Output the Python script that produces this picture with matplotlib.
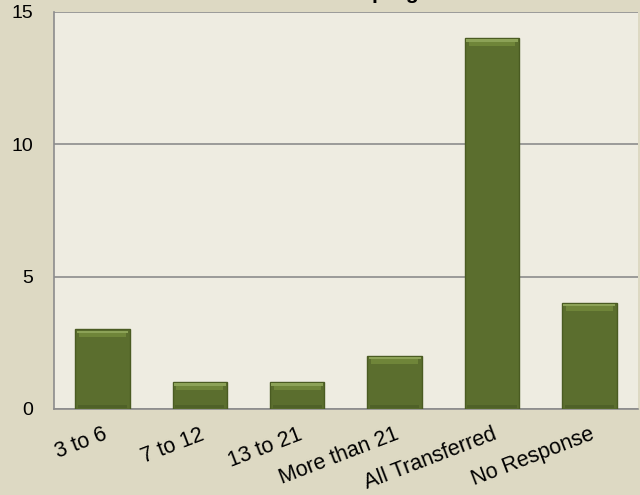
import numpy as np
import matplotlib.pyplot as plt

categories = ['3 to 6', '7 to 12', '13 to 21', 'More than 21', 'All Transferred', 'No Response']
counts = [3, 1, 1, 2, 14, 4]
yticks = [0, 5, 10, 15]

plt.rcParams['font.family'] = ['Liberation Sans', 'DejaVu Sans']

fig = plt.figure(figsize=(6.4, 4.95), dpi=100, facecolor='#DDD9C3')
ax = fig.add_axes([0.084, 0.174, 0.913, 0.802])
ax.set_facecolor('#EEECE1')

x = np.arange(len(categories))
w = 0.56
vals = np.array(counts, dtype=float)
ax.bar(x, vals, width=w, color='#5B6E2E', edgecolor='#4A5B22', linewidth=1.0, zorder=3)
# bevel: lighter band on top, darker band at the bottom
ax.bar(x, [0.26] * len(vals), bottom=vals - 0.3, width=w * 0.86,
       color='#6F8539', linewidth=0, zorder=4)
ax.bar(x, [0.08] * len(vals), bottom=vals - 0.12, width=w * 0.95,
       color='#8CA257', linewidth=0, zorder=4)
ax.bar(x, [0.12] * len(vals), bottom=0.02, width=w * 0.9,
       color='#4F6128', linewidth=0, zorder=4)

ax.set_xlim(-0.5, len(categories) - 0.5)
ax.set_ylim(0, 15)
ax.set_yticks(yticks)
ax.set_yticklabels([str(t) for t in yticks], fontsize=14)
ax.yaxis.grid(True, color='#8C8C8C', linewidth=1.2, zorder=0)
ax.set_axisbelow(True)

ax.set_xticks(x)
ax.set_xticklabels(categories, fontsize=15.5, rotation=21, ha='right', rotation_mode='anchor')
ax.tick_params(axis='both', length=0)
ax.tick_params(axis='y', pad=15)
ax.tick_params(axis='x', pad=11)

for side in ['top', 'right']:
    ax.spines[side].set_visible(False)
for side in ['left', 'bottom']:
    ax.spines[side].set_color('#8C8C8C')
    ax.spines[side].set_linewidth(1.2)

# title sits mostly above the visible area
fig.text(0.58, 1.002, 'Years in program', fontsize=15, fontweight='bold',
         ha='center', va='baseline')

fig.savefig('out.png', dpi=100, facecolor=fig.get_facecolor())
